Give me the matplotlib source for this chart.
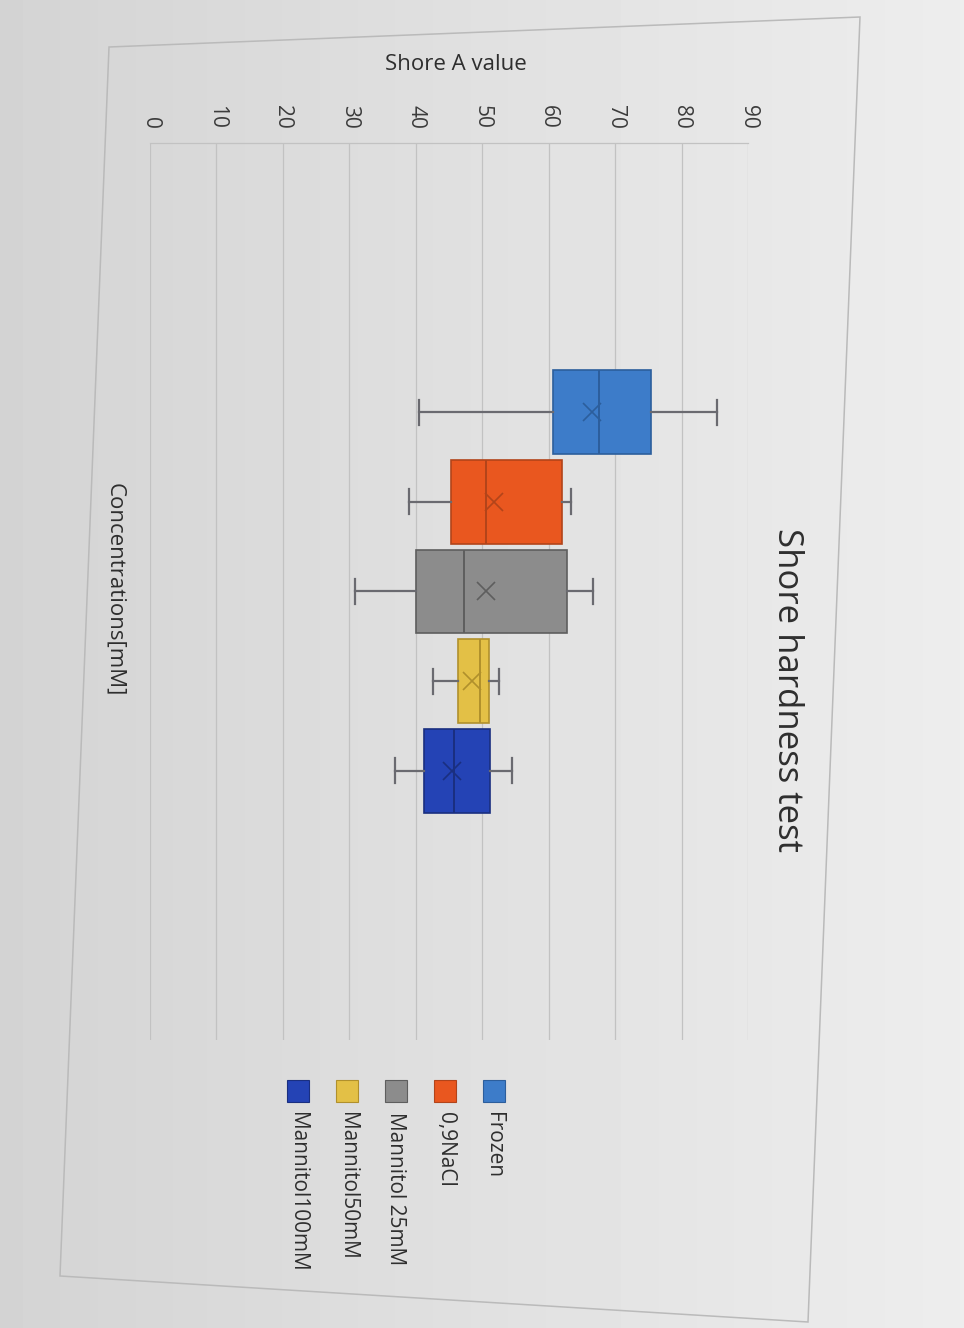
import numpy as np
import matplotlib
matplotlib.use("Agg")
import matplotlib.pyplot as plt
from matplotlib.patches import Polygon, Rectangle

plt.rcParams['font.family'] = ['Open Sans', 'DejaVu Sans']

# box plot values
labels = ['Frozen', '0,9NaCl', 'Mannitol 25mM', 'Mannitol50mM', 'Mannitol100mM']
whislo = [40.5, 39.0, 30.8, 42.6, 36.8]
q1 = [60.6, 45.3, 40.0, 46.3, 41.2]
med = [67.5, 50.6, 47.3, 49.7, 45.7]
means = [66.5, 51.8, 50.6, 48.5, 45.5]
q3 = [75.4, 62.0, 62.7, 51.0, 51.2]
whishi = [85.3, 63.3, 66.6, 52.6, 54.5]
value_ticks = [0, 10, 20, 30, 40, 50, 60, 70, 80, 90]

fills = ['#3d7cc9', '#e9571f', '#8c8c8c', '#e3c046', '#2443b5']
edges = ['#2c5e9c', '#b2441a', '#5e5e5e', '#b0902c', '#1a2f80']

W, H = 964, 1328
fig = plt.figure(figsize=(W / 100, H / 100), dpi=100)

# photo background: light grey, a bit darker on the left
bg = fig.add_axes([0, 0, 1, 1], zorder=-10)
grad = np.linspace(0.83, 0.93, 256)[None, :]
bg.imshow(grad, cmap='gray', vmin=0, vmax=1, aspect='auto', extent=[0, 1, 0, 1])
bg.set_axis_off()

def fx(px):
    return px / W

def fy(py):
    return 1 - py / H

# chart area border (slightly skewed like the photo)
border = Polygon([(fx(109), fy(47)), (fx(860), fy(17)), (fx(808), fy(1322)), (fx(60), fy(1276))],
                 closed=True, fill=False, edgecolor='#bababa', lw=1.1, transform=fig.transFigure)
fig.patches.append(border)

# plot area: value axis runs left->right, chart rotated 90 degrees clockwise
ax = fig.add_axes([fx(150), fy(1040), fx(748) - fx(150), fy(143) - fy(1040)])
ax.set_facecolor('none')

n = len(labels)
pos = np.arange(n)
stats = []
for i in range(n):
    stats.append(dict(label=labels[i], whislo=whislo[i], q1=q1[i], med=med[i],
                      mean=means[i], q3=q3[i], whishi=whishi[i], fliers=[]))

bp = ax.bxp(stats, positions=pos, widths=0.93, orientation='horizontal', patch_artist=True,
            showmeans=True, capwidths=0.28,
            whiskerprops=dict(color='#6a6a70', lw=1.6),
            capprops=dict(color='#6a6a70', lw=1.6),
            meanprops=dict(marker='x', markersize=13, markeredgewidth=1.2))

for i in range(n):
    bp['boxes'][i].set_facecolor(fills[i])
    bp['boxes'][i].set_edgecolor(edges[i])
    bp['boxes'][i].set_linewidth(1.2)
    bp['medians'][i].set_color(edges[i])
    bp['medians'][i].set_linewidth(1.4)
    bp['means'][i].set_markeredgecolor(edges[i])
    bp['means'][i].set_markerfacecolor(edges[i])

ax.set_xlim(0, 90)
ax.set_ylim(n + 2, -3)
ax.set_xticks(value_ticks)
ax.set_xticklabels([str(v) for v in value_ticks])
ax.xaxis.tick_top()
ax.tick_params(axis='x', length=0, pad=10, labelsize=15, labelcolor='#3c3c3c')
for t in ax.get_xticklabels():
    t.set_rotation(-90)
    t.set_va('bottom')
    t.set_ha('center')
ax.set_yticks([])
ax.grid(axis='x', color='#c2c2c2', lw=0.9)
ax.set_axisbelow(True)
for s in ['left', 'right', 'bottom']:
    ax.spines[s].set_visible(False)
ax.spines['top'].set_color('#c2c2c2')
ax.spines['top'].set_linewidth(0.9)

# titles
fig.text(fx(787), fy(690), 'Shore hardness test', rotation=-90, fontsize=25,
         color='#2e2e2e', ha='center', va='center')
fig.text(fx(456), fy(65), 'Shore A value', fontsize=16, color='#2e2e2e',
         ha='center', va='center')
fig.text(fx(115), fy(590), 'Concentrations[mM]', rotation=-90, fontsize=16,
         color='#2e2e2e', ha='center', va='center')

# legend, stacked right to left
for i in range(n):
    xc = 494 - 49 * i
    fig.patches.append(Rectangle((fx(xc - 11), fy(1102)), fx(22), 22 / H,
                                 facecolor=fills[i], edgecolor=edges[i], lw=0.8,
                                 transform=fig.transFigure))
    fig.text(fx(xc), fy(1112), labels[i], rotation=-90, fontsize=15, color='#2e2e2e',
             ha='center', va='top')

fig.savefig('out.png', dpi=100)
